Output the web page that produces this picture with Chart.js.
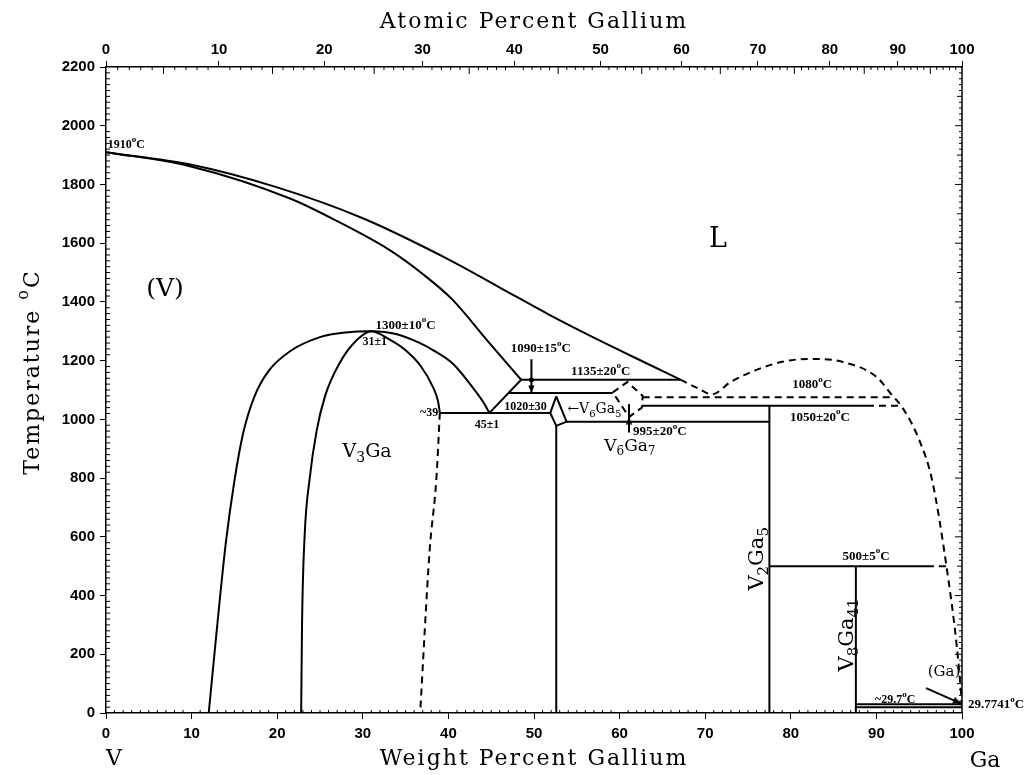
<!DOCTYPE html>
<html>
<head>
<meta charset="utf-8">
<script src="https://cdn.jsdelivr.net/npm/chart.js@4.4.0/dist/chart.umd.min.js"></script>
<style>
html, body { margin: 0; padding: 0; background: #fff; }
#wrap { width: 1035px; height: 775px; }
</style>
</head>
<body>
<div id="wrap"><canvas id="chart"></canvas></div>
<script>
// Ga-V phase diagram, points are [weight % Ga, temperature in C]
const liquidus = [[0, 1910], [10, 1867], [20, 1790], [30, 1685], [40, 1545], [46, 1449], [51.8, 1356], [57.7, 1268], [63.5, 1186], [67.1, 1135]];
const liquidusRich = [[67.1, 1135], [69, 1108], [70.8, 1085], [73, 1128], [76.3, 1172], [79, 1196], [82.1, 1206], [86, 1196], [90, 1145], [91.8, 1083], [93, 1042], [95, 930], [96.5, 794], [98.2, 497], [99.4, 225], [100, 30]];
const solidus = [[0, 1910], [9.8, 1862], [21.5, 1752], [27, 1675], [33.1, 1577], [37, 1495], [40.5, 1407], [44.5, 1270], [48.5, 1135]];
const outerDome = [[12, 0], [13, 300], [14, 580], [15, 790], [16, 950], [17.3, 1075], [19, 1165], [21.5, 1232], [25, 1280], [28, 1296], [31, 1300], [34, 1290], [36.5, 1262], [38.2, 1236], [40.5, 1190], [42.8, 1110], [44, 1062], [44.8, 1022]];
const innerDome = [[22.8, 0], [22.9, 300], [23.2, 600], [23.8, 800], [24.6, 960], [25.6, 1080], [27.3, 1192], [29.3, 1270], [31, 1300], [33.1, 1272], [35, 1235], [36.8, 1180], [38.2, 1110], [38.8, 1060], [39, 1022]];
const v3GaRich = [[39, 1022], [38.6, 800], [37.8, 550], [36.7, 0]];

// invariant lines and phase boundaries
const iso1020 = [[39, 1022], [51.9, 1022]];
const edge45 = [[44.8, 1022], [48.5, 1135]];
const iso1135 = [[48.5, 1135], [67.1, 1135]];
const iso1090 = [[47.0, 1090], [59.2, 1090]];
const v6Ga5Lens = [[52.6, 1078], [51.9, 1022], [52.6, 978], [53.8, 992], [52.6, 1078]];
const v6Ga5Line = [[52.6, 978], [52.6, 0]];
const iso995 = [[53.8, 992], [77.5, 992]];
const v6Ga7Box = [[59.2, 1092], [60.9, 1127], [62.7, 1080], [62.6, 1040], [61.1, 1008], [59.2, 1092]];
const iso1080 = [[62.7, 1075], [91.9, 1075]];
const iso1050 = [[62.6, 1046], [88.9, 1046]];
const iso1050Rich = [[88.9, 1046], [92.9, 1046]];
const v2Ga5Line = [[77.5, 0], [77.5, 1046]];
const iso500 = [[77.5, 500], [95.9, 500]];
const iso500Rich = [[95.9, 500], [98.2, 500]];
const v8Ga41Line = [[87.6, 0], [87.6, 500]];
const isoGa = [[87.6, 29.7], [100, 29.7]];
const isoGaLow = [[87.6, 20], [100, 20]];

// pointer lines for labels
const arrow1090 = [[49.7, 1205], [49.7, 1090]];
const arrowV6Ga7 = [[61.1, 955], [61.1, 1052]];
const arrowGa = [[95.8, 85], [99.9, 32]];

// top axis
const atomicTicks = [0, 10, 20, 30, 40, 50, 60, 70, 80, 90, 100];
const massV = 50.9415, massGa = 69.723;

function atToWt(a) {
    return 100 * a * massGa / (a * massGa + (100 - a) * massV);
}

function line(points, dashed, curved) {
    return {
        data: points.map(p => ({ x: p[0], y: p[1] })),
        showLine: true,
        borderColor: '#000',
        borderWidth: 2,
        borderDash: dashed ? [7, 5] : [],
        pointRadius: 0,
        cubicInterpolationMode: curved ? 'monotone' : 'default',
        tension: curved ? 0.4 : 0,
        fill: false
    };
}

// text notes: text, wt %, temperature, align, size, rotate
const notes = [
    ['1910^{o}C', 0.2, 1935, 'left', 12],
    ['(V)', 6.9, 1441, 'center', 25, 0, 'serif'],
    ['L', 71.5, 1611, 'center', 27, 0, 'serif'],
    ['1300±10^{o}C', 35, 1320, 'center', 13],
    ['31±1', 31.4, 1265, 'center', 12],
    ['1090±15^{o}C', 50.8, 1240, 'center', 13],
    ['1135±20^{o}C', 57.8, 1164, 'center', 13],
    ['~39', 38.8, 1022, 'right', 12],
    ['45±1', 44.5, 982, 'center', 12],
    ['1020±30', 49, 1042, 'center', 12],
    ['←V_{6}Ga_{5}', 53.9, 1033, 'left', 14, 0, 'serif'],
    ['V_{6}Ga_{7}', 61.2, 909, 'center', 17, 0, 'serif'],
    ['995±20^{o}C', 64.7, 958, 'center', 13],
    ['1080^{o}C', 82.5, 1117, 'center', 13],
    ['1050±20^{o}C', 83.4, 1006, 'center', 13],
    ['V_{3}Ga', 30.5, 889, 'center', 19, 0, 'serif'],
    ['V_{2}Ga_{5}', 76.1, 525, 'center', 21, -Math.PI / 2, 'serif'],
    ['500±5^{o}C', 88.8, 533, 'center', 13],
    ['V_{8}Ga_{41}', 86.6, 266, 'center', 21, -Math.PI / 2, 'serif'],
    ['(Ga)', 97.9, 140, 'center', 15, 0, 'serif'],
    ['~29.7^{o}C', 92.2, 46, 'center', 12],
    ['29.7741^{o}C', 100.7, 27, 'left', 13]
];

// draws text with _{sub} and ^{sup} parts
function drawRich(ctx, str, x, y, size, align, family, weight) {
    const parts = [];
    const re = /([_^])\{([^}]*)\}|([^_^]+)/g;
    let m;
    while ((m = re.exec(str))) {
        if (m[1]) parts.push({ t: m[2], mode: m[1] });
        else parts.push({ t: m[3], mode: '' });
    }
    const fontFor = p => `${weight} ${p.mode ? Math.round(size * 0.72) : size}px ${family}`;
    let w = 0;
    parts.forEach(p => {
        ctx.font = fontFor(p);
        p.w = ctx.measureText(p.t).width;
        w += p.w;
    });
    let cx = align === 'center' ? x - w / 2 : align === 'right' ? x - w : x;
    ctx.textAlign = 'left';
    ctx.textBaseline = 'middle';
    parts.forEach(p => {
        ctx.font = fontFor(p);
        const dy = p.mode === '_' ? size * 0.32 : p.mode === '^' ? -size * 0.42 : 0;
        ctx.fillText(p.t, cx, y + dy);
        cx += p.w;
    });
}

function arrowHead(ctx, x1, y1, x2, y2, len) {
    const ang = Math.atan2(y2 - y1, x2 - x1);
    ctx.beginPath();
    ctx.moveTo(x2, y2);
    ctx.lineTo(x2 - len * Math.cos(ang - 0.4), y2 - len * Math.sin(ang - 0.4));
    ctx.lineTo(x2 - len * Math.cos(ang + 0.4), y2 - len * Math.sin(ang + 0.4));
    ctx.closePath();
    ctx.fill();
}

const decorations = {
    id: 'decorations',
    afterDraw(chart) {
        const { ctx, chartArea: a } = chart;
        const x = chart.scales.x, y = chart.scales.y;
        ctx.save();
        ctx.strokeStyle = '#000';
        ctx.fillStyle = '#000';

        // minor ticks
        ctx.lineWidth = 1;
        ctx.beginPath();
        for (let w = 1; w < 100; w++) {
            if (w % 10 === 0) continue;
            const px = x.getPixelForValue(w);
            ctx.moveTo(px, a.bottom);
            ctx.lineTo(px, a.bottom - 3);
        }
        for (let at = 1; at < 100; at++) {
            if (at % 10 === 0) continue;
            const px = x.getPixelForValue(atToWt(at));
            const len = at % 5 === 0 ? 7 : 3;
            ctx.moveTo(px, a.top);
            ctx.lineTo(px, a.top + len);
        }
        for (let t = 20; t < 2200; t += 20) {
            const py = y.getPixelForValue(t);
            if (t % 200 !== 0) {
                ctx.moveTo(a.left, py);
                ctx.lineTo(a.left + 4, py);
            }
            const len = t % 200 === 0 ? 7 : (t % 100 === 0 ? 5 : 3);
            ctx.moveTo(a.right, py);
            ctx.lineTo(a.right - len, py);
        }
        ctx.stroke();
        ctx.lineWidth = 1.5;
        ctx.beginPath();
        ctx.moveTo(a.right, a.top);
        ctx.lineTo(a.right, a.bottom);
        ctx.stroke();

        // arrow heads
        arrowHead(ctx, x.getPixelForValue(49.7), y.getPixelForValue(1205), x.getPixelForValue(49.7), y.getPixelForValue(1090), 8);
        ctx.beginPath();
        ctx.arc(x.getPixelForValue(49.7), y.getPixelForValue(1135), 2.5, 0, Math.PI * 2);
        ctx.fill();
        arrowHead(ctx, x.getPixelForValue(61.1), y.getPixelForValue(955), x.getPixelForValue(61.1), y.getPixelForValue(1008), 8);
        arrowHead(ctx, x.getPixelForValue(95.8), y.getPixelForValue(85), x.getPixelForValue(99.9), y.getPixelForValue(32), 9);

        // labels inside the diagram
        notes.forEach(n => {
            const [text, wt, temp, align, size, rot, fam] = n;
            const family = fam === 'serif' ? "'DejaVu Serif'" : "'Liberation Serif'";
            const weight = fam === 'serif' ? 'normal' : 'bold';
            const px = x.getPixelForValue(wt), py = y.getPixelForValue(temp);
            ctx.save();
            ctx.translate(px, py);
            if (rot) ctx.rotate(rot);
            drawRich(ctx, text, 0, 0, size, align, family, weight);
            ctx.restore();
        });

        // axis titles
        ctx.letterSpacing = '2px';
        drawRich(ctx, 'Atomic Percent Gallium', (a.left + a.right) / 2, 22, 22, 'center', "'DejaVu Serif'", 'normal');
        drawRich(ctx, 'Weight Percent Gallium', (a.left + a.right) / 2, 759, 22, 'center', "'DejaVu Serif'", 'normal');
        ctx.save();
        ctx.translate(33, 372);
        ctx.rotate(-Math.PI / 2);
        drawRich(ctx, 'Temperature ^{o}C', 0, 0, 22, 'center', "'DejaVu Serif'", 'normal');
        ctx.restore();
        ctx.letterSpacing = '0px';
        drawRich(ctx, 'V', 114, 759, 22, 'center', "'DejaVu Serif'", 'normal');
        drawRich(ctx, 'Ga', 985, 761, 22, 'center', "'DejaVu Serif'", 'normal');
        ctx.restore();
    }
};

const tickFont = { family: "'Liberation Sans'", size: 15, weight: 'bold' };

new Chart(document.getElementById('chart'), {
    type: 'scatter',
    data: {
        datasets: [
            line(liquidus, false, true),
            line(liquidusRich, true, true),
            line(solidus, false, true),
            line(outerDome, false, true),
            line(innerDome, false, true),
            line(v3GaRich, true, true),
            line(iso1020), line(edge45), line(iso1135), line(iso1090),
            line(v6Ga5Lens), line(v6Ga5Line), line(iso995),
            line(v6Ga7Box, true), line(iso1080, true),
            line(iso1050), line(iso1050Rich, true),
            line(v2Ga5Line), line(iso500), line(iso500Rich, true),
            line(v8Ga41Line), line(isoGa), line(isoGaLow),
            line(arrow1090), line(arrowV6Ga7), line(arrowGa)
        ]
    },
    options: {
        responsive: true,
        maintainAspectRatio: false,
        animation: false,
        layout: { padding: { left: 0, right: 73, top: 0, bottom: 0 } },
        plugins: { legend: { display: false }, tooltip: { enabled: false } },
        scales: {
            x: {
                type: 'linear', position: 'bottom', min: 0, max: 100,
                ticks: { stepSize: 10, color: '#000', font: tickFont, padding: 6, autoSkip: false, maxRotation: 0 },
                grid: { drawOnChartArea: false, color: '#000', tickLength: 6 },
                border: { color: '#000', width: 1.5 },
                afterFit(s) { s.height = 62; }
            },
            x2: {
                type: 'linear', position: 'top', min: 0, max: 100,
                afterBuildTicks(s) { s.ticks = atomicTicks.map(v => ({ value: atToWt(v) })); },
                ticks: { color: '#000', font: tickFont, padding: 2, autoSkip: false, maxRotation: 0,
                    callback: (v, i) => atomicTicks[i] },
                grid: { drawOnChartArea: false, color: '#000', tickLength: 6 },
                border: { color: '#000', width: 1.5 },
                afterFit(s) { s.height = 67; }
            },
            y: {
                type: 'linear', position: 'left', min: 0, max: 2200,
                ticks: { stepSize: 200, color: '#000', font: tickFont, padding: 5, callback: v => String(v) },
                grid: { drawOnChartArea: false, color: '#000', tickLength: 6 },
                border: { color: '#000', width: 1.5 },
                afterFit(s) { s.width = 106; }
            }
        }
    },
    plugins: [decorations]
});
</script>
</body>
</html>
